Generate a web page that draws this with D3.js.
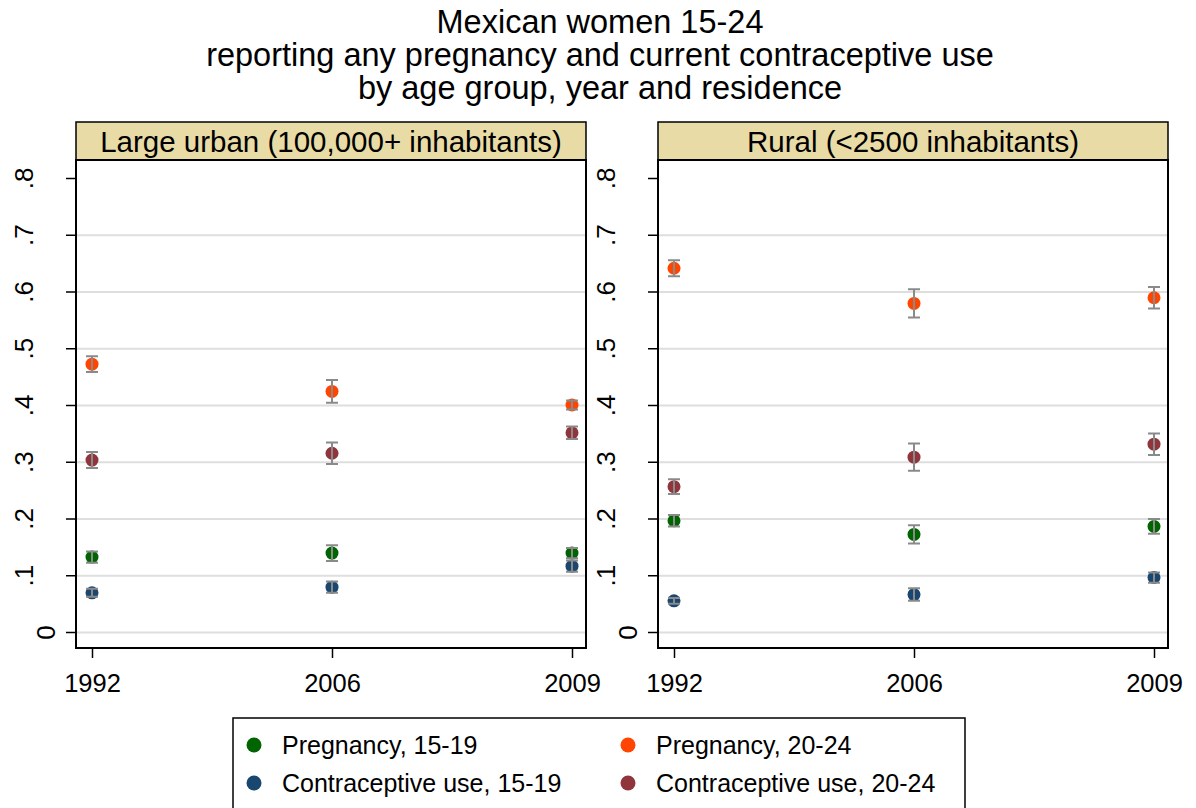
<!DOCTYPE html>
<html>
<head>
<meta charset="utf-8">
<script src="https://cdn.jsdelivr.net/npm/d3@7"></script>
<style>
  body { margin: 0; background: #fff; }
  svg { display: block; font-family: "Liberation Sans", Arial, sans-serif; }
</style>
</head>
<body>
<svg id="chart" width="1196" height="808"></svg>
<script>
// chart values
const years = ["1992", "2006", "2009"]
const panelTitles = ["Large urban (100,000+ inhabitants)", "Rural (<2500 inhabitants)"]
const seriesNames = ["Pregnancy, 15-19", "Pregnancy, 20-24", "Contraceptive use, 15-19", "Contraceptive use, 20-24"]
const seriesColors = ["#006400", "#ff4500", "#1a476f", "#90353b"]
const yTicks = [0, 0.1, 0.2, 0.3, 0.4, 0.5, 0.6, 0.7, 0.8]
const titleLines = ["Mexican women 15-24", "reporting any pregnancy and current contraceptive use", "by age group, year and residence"]

// large urban: point estimates and half width of the interval
const urbanPreg1519 = [0.132, 0.139, 0.139]
const urbanPreg1519Ci = [0.010, 0.014, 0.009]
const urbanPreg2024 = [0.472, 0.424, 0.400]
const urbanPreg2024Ci = [0.014, 0.020, 0.008]
const urbanContra1519 = [0.069, 0.079, 0.116]
const urbanContra1519Ci = [0.007, 0.010, 0.010]
const urbanContra2024 = [0.303, 0.315, 0.351]
const urbanContra2024Ci = [0.014, 0.019, 0.011]

// rural
const ruralPreg1519 = [0.196, 0.172, 0.186]
const ruralPreg1519Ci = [0.010, 0.016, 0.013]
const ruralPreg2024 = [0.641, 0.579, 0.589]
const ruralPreg2024Ci = [0.014, 0.025, 0.019]
const ruralContra1519 = [0.055, 0.066, 0.096]
const ruralContra1519Ci = [0.005, 0.011, 0.009]
const ruralContra2024 = [0.256, 0.308, 0.331]
const ruralContra2024Ci = [0.013, 0.024, 0.019]

const panelValues = [
  [[urbanPreg1519, urbanPreg1519Ci], [urbanPreg2024, urbanPreg2024Ci], [urbanContra1519, urbanContra1519Ci], [urbanContra2024, urbanContra2024Ci]],
  [[ruralPreg1519, ruralPreg1519Ci], [ruralPreg2024, ruralPreg2024Ci], [ruralContra1519, ruralContra1519Ci], [ruralContra2024, ruralContra2024Ci]]
]

const svg = d3.select("#chart")

// title
svg.append("g").selectAll("text")
  .data(titleLines)
  .enter().append("text")
  .attr("x", 600)
  .attr("y", (d, i) => 33 + i * 33)
  .attr("text-anchor", "middle")
  .style("font-size", "32.5px")
  .text(d => d)

const panelLeft = [76, 658]
const panelW = 510
const stripTop = 122, plotTop = 160, plotBottom = 648

const y = d3.scaleLinear().domain([0, 0.8]).range([632, 178])
const fmt = v => v === 0 ? "0" : d3.format(".1f")(v).replace(/^0/, "")

panelValues.forEach((series, p) => {
  const g = svg.append("g").attr("transform", `translate(${panelLeft[p]},0)`)
  const x = d3.scalePoint().domain(years).range([16, panelW - 14])

  // grid lines
  g.append("g")
    .call(d3.axisLeft(y).tickValues(yTicks.filter(t => t < 0.8)).tickSize(-panelW).tickFormat(""))
    .call(a => a.select(".domain").remove())
    .call(a => a.selectAll("line").attr("stroke", "#dedede").attr("stroke-width", 2))

  // strip
  g.append("rect")
    .attr("x", 0).attr("y", stripTop)
    .attr("width", panelW).attr("height", plotTop - stripTop)
    .attr("fill", "#e8dba6").attr("stroke", "#000").attr("stroke-width", 1.5)
  g.append("text")
    .attr("x", panelW / 2).attr("y", 152)
    .attr("text-anchor", "middle")
    .style("font-size", "29.5px")
    .text(panelTitles[p])

  // plot frame
  g.append("rect")
    .attr("x", 0).attr("y", plotTop)
    .attr("width", panelW).attr("height", plotBottom - plotTop)
    .attr("fill", "none").attr("stroke", "#000").attr("stroke-width", 2)

  // y axis, labels turned
  const ya = g.append("g")
    .call(d3.axisLeft(y).tickValues(yTicks).tickSize(10).tickFormat(fmt))
  ya.select(".domain").remove()
  ya.selectAll("line").attr("stroke", "#000").attr("stroke-width", 1.5)
  ya.selectAll("text")
    .attr("x", null).attr("dy", null)
    .attr("text-anchor", "middle")
    .attr("transform", d => `translate(${d === 0 ? -21 : -43},0) rotate(-90)`)
    .attr("fill", "#000")
    .style("font-size", "26px")

  // x axis
  const xa = g.append("g")
    .attr("transform", `translate(0,${plotBottom})`)
    .call(d3.axisBottom(x).tickSize(10).tickPadding(8))
  xa.select(".domain").remove()
  xa.selectAll("line").attr("stroke", "#000").attr("stroke-width", 1.5)
  xa.selectAll("text").attr("fill", "#000").style("font-size", "25.5px")
    .attr("dy", null).attr("y", 44)

  // markers and intervals
  series.forEach(([vals, ci], s) => {
    const pts = years.map((yr, i) => ({ yr: yr, v: vals[i], lo: vals[i] - ci[i], hi: vals[i] + ci[i] }))
    g.append("g").selectAll("circle")
      .data(pts).enter().append("circle")
      .attr("cx", d => x(d.yr))
      .attr("cy", d => y(d.v))
      .attr("r", 6.5)
      .attr("fill", seriesColors[s])
    const bars = g.append("g").attr("stroke", "#8a8a8a").attr("stroke-width", 2).attr("fill", "none")
    bars.selectAll("path")
      .data(pts).enter().append("path")
      .attr("d", d => {
        const cx = x(d.yr)
        return `M${cx},${y(d.lo)}V${y(d.hi)}M${cx - 6},${y(d.lo)}H${cx + 6}M${cx - 6},${y(d.hi)}H${cx + 6}`
      })
  })
})

// legend
const legend = svg.append("g")
legend.append("rect")
  .attr("x", 233).attr("y", 718)
  .attr("width", 732).attr("height", 100)
  .attr("fill", "#fff").attr("stroke", "#000").attr("stroke-width", 1.5)

const legendCol = [254, 628]
const legendRow = [745, 783]
seriesNames.forEach((name, i) => {
  const cx = legendCol[i % 2], cy = legendRow[Math.floor(i / 2)]
  legend.append("circle")
    .attr("cx", cx).attr("cy", cy).attr("r", 7.5)
    .attr("fill", seriesColors[i])
  legend.append("text")
    .attr("x", cx + 28).attr("y", cy + 9)
    .style("font-size", "25px")
    .text(name)
})
</script>
</body>
</html>
